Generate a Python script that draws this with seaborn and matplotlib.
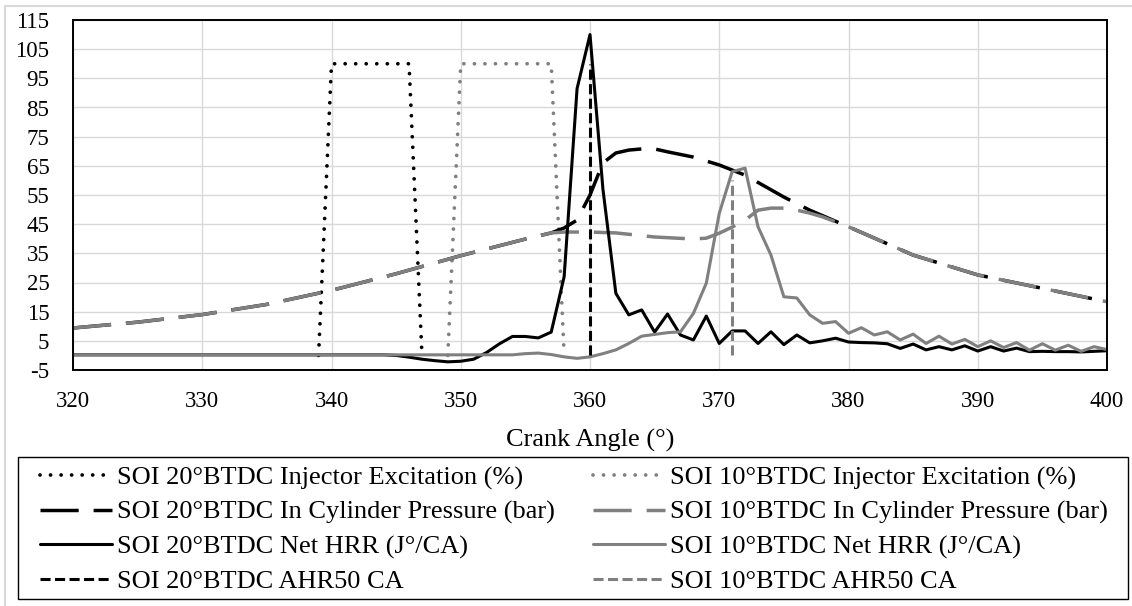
import numpy as np
import pandas as pd
import matplotlib
matplotlib.use("Agg")
import matplotlib.pyplot as plt
from matplotlib.patches import Rectangle
import seaborn as sns

# ---------------- data ----------------
crank_angle = list(range(320, 401))

hrr_20 = ([0.2] * 25 +
          [0.0, -0.6, -1.3, -1.8, -2.2, -2.0, -1.3, 1.0, 4.0, 6.5,
           6.5, 6.0, 8.0, 27.0, 91.5, 110.0, 57.0, 21.3, 13.9, 15.6,
           8.0, 14.2, 7.0, 5.3, 13.5, 4.1, 8.4, 8.4, 4.1, 8.1,
           3.7, 7.0, 4.3, 5.0, 5.9, 4.6, 4.4, 4.3, 4.0, 2.4,
           3.9, 1.9, 3.0, 1.9, 3.3, 1.5, 3.0, 1.5, 2.5, 1.3,
           1.4, 1.3, 1.3, 1.2, 1.4, 1.6])

hrr_10 = ([0.2] * 35 +
          [0.6, 0.8, 0.3, -0.5, -1.0, -0.5, 0.6, 1.9, 4.1, 6.6,
           7.2, 7.8, 8.1, 14.4, 24.8, 48.7, 63.0, 64.2, 44.1, 34.4,
           20.1, 19.7, 13.9, 11.0, 11.6, 7.6, 9.5, 7.0, 8.1, 5.3,
           7.3, 4.1, 6.6, 3.9, 5.5, 3.0, 5.0, 2.7, 4.4, 1.8,
           4.0, 1.8, 3.5, 1.4, 3.0, 2.0])

p20_angle = [320, 325, 330, 335, 340, 345, 350, 355, 357, 358, 359, 360, 361,
             362, 363, 364, 365, 366, 368, 370, 372, 375, 377, 380, 385, 390,
             395, 400]
p20 = [9.4, 11.4, 14.0, 17.5, 22.3, 28.0, 34.2, 39.9, 42.0, 43.7, 46.4, 55.0,
       66.0, 69.4, 70.4, 70.8, 70.8, 69.8, 68.0, 65.3, 61.8, 54.3, 49.8, 44.1,
       34.4, 27.6, 23.0, 18.4]

p10_angle = [320, 325, 330, 335, 340, 345, 350, 355, 357, 358, 360, 362, 365,
             368, 369, 370, 371, 372, 373, 374, 375, 376, 377, 378, 380, 385,
             390, 395, 400]
p10 = [9.4, 11.4, 14.0, 17.5, 22.3, 28.0, 34.2, 39.9, 42.0, 42.3, 42.3, 42.0,
       40.6, 39.9, 40.2, 41.9, 44.0, 46.4, 49.8, 50.5, 50.5, 49.8, 48.8, 47.5,
       44.1, 34.4, 27.6, 23.0, 18.4]

exc20_angle = [339, 340, 346, 347]
exc20 = [0, 100, 100, 0]
exc10_angle = [349, 350, 357, 358]
exc10 = [0, 100, 100, 0]

ahr20_angle = [360, 360]
ahr20 = [0, 100]
ahr10_angle = [371, 371]
ahr10 = [0, 60]

labels_20 = ["SOI 20°BTDC Injector Excitation (%)",
             "SOI 20°BTDC In Cylinder Pressure (bar)",
             "SOI 20°BTDC Net HRR (J°/CA)",
             "SOI 20°BTDC AHR50 CA"]
labels_10 = ["SOI 10°BTDC Injector Excitation (%)",
             "SOI 10°BTDC In Cylinder Pressure (bar)",
             "SOI 10°BTDC Net HRR (J°/CA)",
             "SOI 10°BTDC AHR50 CA"]

x_ticks = list(range(320, 401, 10))
y_ticks = list(range(-5, 116, 10))

# ---------------- style ----------------
sns.set_theme(style="white")
plt.rcParams["font.family"] = ["Liberation Serif", "DejaVu Serif"]
plt.rcParams["axes.unicode_minus"] = False

BLACK = "#000000"
GRAY = "#808080"

W, H = 1132, 606
fig = plt.figure(figsize=(W / 100, H / 100), dpi=100)
ax = fig.add_axes([73 / W, (H - 370) / H, (1107 - 73) / W, 350 / H])

dotted = (0, (0.01, 2.8))
press_dash = (0, (11, 4.3))
ahr_dash = (0, (3.3, 1.45))

common = dict(ax=ax, estimator=None, sort=False)

sns.lineplot(x=exc20_angle, y=exc20, color=BLACK, linewidth=2.7,
             linestyle=dotted, dash_capstyle="round", label=labels_20[0], **common)
sns.lineplot(x=exc10_angle, y=exc10, color=GRAY, linewidth=2.7,
             linestyle=dotted, dash_capstyle="round", label=labels_10[0], **common)
sns.lineplot(x=p20_angle, y=p20, color=BLACK, linewidth=2.5,
             linestyle=press_dash, label=labels_20[1], **common)
sns.lineplot(x=p10_angle, y=p10, color=GRAY, linewidth=2.5,
             linestyle=press_dash, label=labels_10[1], **common)
sns.lineplot(x=crank_angle, y=hrr_20, color=BLACK, linewidth=2.2,
             linestyle="-", label=labels_20[2], **common)
sns.lineplot(x=crank_angle, y=hrr_10, color=GRAY, linewidth=2.2,
             linestyle="-", label=labels_10[2], **common)
sns.lineplot(x=ahr20_angle, y=ahr20, color=BLACK, linewidth=2.2,
             linestyle=ahr_dash, label=labels_20[3], **common)
sns.lineplot(x=ahr10_angle, y=ahr10, color=GRAY, linewidth=2.2,
             linestyle=ahr_dash, label=labels_10[3], **common)

ax.set_xlim(320, 400)
ax.set_ylim(-5, 115)
ax.set_xticks(x_ticks)
ax.set_yticks(y_ticks)
ax.grid(True, color="#d9d9d9", linewidth=1.0)
ax.set_axisbelow(True)
for s in ax.spines.values():
    s.set_color("black")
    s.set_linewidth(1.4)
ax.tick_params(axis="both", length=0, labelsize=16.5, colors="black")
ax.tick_params(axis="y", pad=17)
ax.tick_params(axis="x", pad=15)
ax.set_xlabel("Crank Angle (°)", fontsize=19, color="black", labelpad=12)
ax.set_ylabel("")

# legend
handles, labels = ax.get_legend_handles_labels()
if ax.get_legend():
    ax.get_legend().remove()
lookup = dict(zip(labels, handles))
order = labels_20 + labels_10
leg = fig.legend([lookup[l] for l in order], order,
                 loc="upper left", bbox_to_anchor=(40 / W, 1 - 466 / H),
                 ncol=2, frameon=False, fontsize=19,
                 borderpad=0, borderaxespad=0, handlelength=2.73,
                 handletextpad=0.19, columnspacing=1.44, labelspacing=0.40)
for t in leg.get_texts():
    t.set_color("black")

# legend box
fig.add_artist(Rectangle((18 / W, (H - 599) / H), 1110 / W, 142 / H,
                         transform=fig.transFigure, fill=False,
                         edgecolor="black", linewidth=1.0))
# chart area border
fig.add_artist(Rectangle((5 / W, -10 / H), 1140 / W, (H - 6 + 10) / H,
                         transform=fig.transFigure, fill=False,
                         edgecolor="#d9d9d9", linewidth=1.5))

fig.savefig("out.png", dpi=100)
